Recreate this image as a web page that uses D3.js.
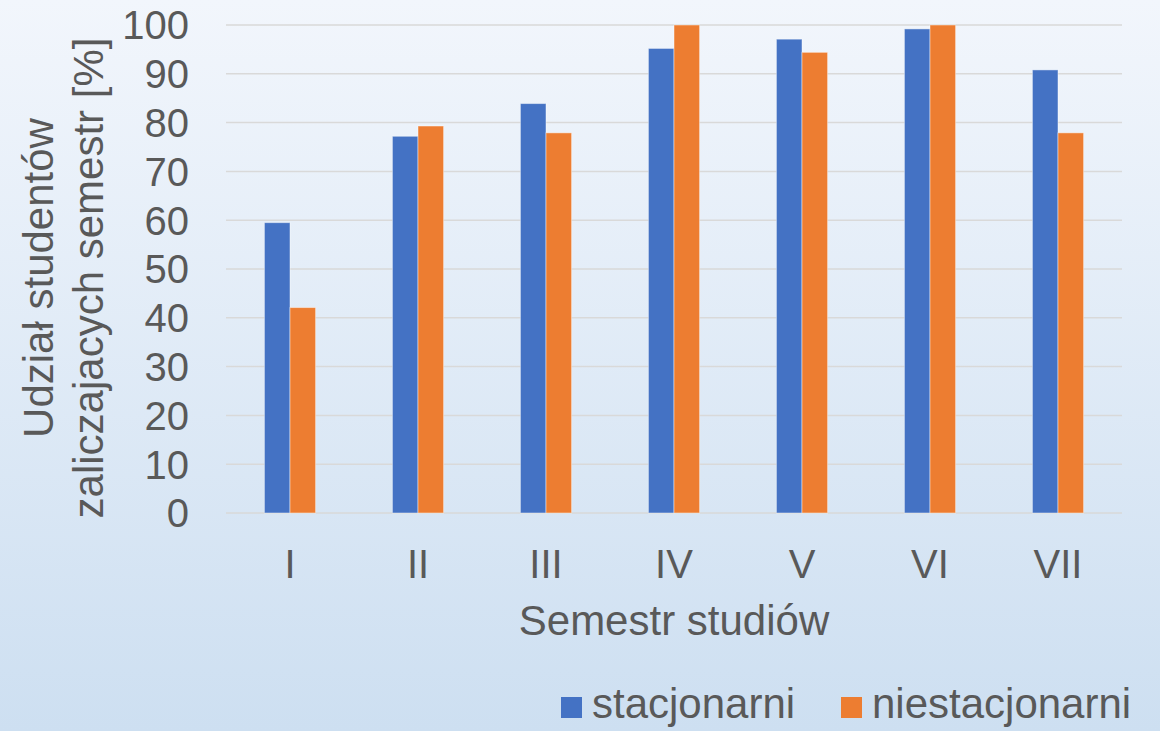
<!DOCTYPE html>
<html>
<head>
<meta charset="utf-8">
<script src="https://cdn.jsdelivr.net/npm/d3@7/dist/d3.min.js"></script>
<style>
  html, body { margin: 0; padding: 0; }
  svg { display: block; }
  text { font-family: "Liberation Sans", Arial, sans-serif; fill: #595959; }
</style>
</head>
<body>
<script>
// Share of students passing each semester, by mode of study
const semesters = ["I", "II", "III", "IV", "V", "VI", "VII"];
const stacjonarni = [59.5, 77.2, 83.9, 95.2, 97.1, 99.2, 90.8];
const niestacjonarni = [42.1, 79.3, 77.9, 100, 94.4, 100, 77.9];
const seriesNames = ["stacjonarni", "niestacjonarni"];
const seriesColors = ["#4472C4", "#ED7D31"];
const yTicks = [0, 10, 20, 30, 40, 50, 60, 70, 80, 90, 100];

const W = 1160, H = 731;
const plot = { left: 226, right: 1122, top: 25, bottom: 513 };

const svg = d3.select("body").append("svg")
  .attr("width", W).attr("height", H);

// soft vertical background gradient
const defs = svg.append("defs");
const grad = defs.append("linearGradient")
  .attr("id", "bg").attr("x1", 0).attr("y1", 0).attr("x2", 0).attr("y2", 1);
grad.append("stop").attr("offset", "0%").attr("stop-color", "#f2f6fc");
grad.append("stop").attr("offset", "100%").attr("stop-color", "#cddff1");
svg.append("rect").attr("width", W).attr("height", H).attr("fill", "url(#bg)");

const x0 = d3.scaleBand()
  .domain(semesters)
  .range([plot.left, plot.right])
  .paddingInner(0.6)
  .paddingOuter(0.3);

const x1 = d3.scaleBand()
  .domain(seriesNames)
  .range([0, x0.bandwidth()]);

const y = d3.scaleLinear().domain([0, 100]).range([plot.bottom, plot.top]);

// horizontal gridlines
svg.append("g")
  .selectAll("line")
  .data(yTicks)
  .join("line")
  .attr("x1", plot.left).attr("x2", plot.right)
  .attr("y1", d => y(d)).attr("y2", d => y(d))
  .attr("stroke", "#d9d9d9").attr("stroke-width", 1.5);

// y tick labels
svg.append("g")
  .selectAll("text")
  .data(yTicks)
  .join("text")
  .attr("x", 189)
  .attr("y", d => y(d))
  .attr("dy", "0.36em")
  .attr("text-anchor", "end")
  .attr("font-size", 40)
  .text(d => d);

// bars
const rows = semesters.map((s, i) => ({
  sem: s,
  values: [
    { key: seriesNames[0], v: stacjonarni[i], c: seriesColors[0] },
    { key: seriesNames[1], v: niestacjonarni[i], c: seriesColors[1] }
  ]
}));

svg.append("g")
  .selectAll("g")
  .data(rows)
  .join("g")
  .attr("transform", d => `translate(${x0(d.sem)},0)`)
  .selectAll("rect")
  .data(d => d.values)
  .join("rect")
  .attr("x", d => x1(d.key))
  .attr("width", x1.bandwidth())
  .attr("y", d => y(d.v))
  .attr("height", d => y(0) - y(d.v))
  .attr("fill", d => d.c)
  .attr("stroke", "rgba(255,255,255,0.45)")
  .attr("stroke-width", 1);

// x category labels
svg.append("g")
  .selectAll("text")
  .data(semesters)
  .join("text")
  .attr("x", d => x0(d) + x0.bandwidth() / 2)
  .attr("y", 578)
  .attr("text-anchor", "middle")
  .attr("font-size", 40)
  .text(d => d);

// x axis title
svg.append("text")
  .attr("x", (plot.left + plot.right) / 2)
  .attr("y", 635)
  .attr("text-anchor", "middle")
  .attr("font-size", 42)
  .text("Semestr studiów");

// y axis title, two lines
const yTitle = svg.append("text")
  .attr("transform", "translate(0,278) rotate(-90)")
  .attr("text-anchor", "middle")
  .attr("font-size", 42);
yTitle.append("tspan").attr("x", 0).attr("y", 53).text("Udział studentów");
yTitle.append("tspan").attr("x", 0).attr("y", 103).text("zaliczajacych semestr [%]");

// legend
const legendX = [561, 841];
const legend = svg.append("g")
  .selectAll("g")
  .data(seriesNames)
  .join("g")
  .attr("transform", (d, i) => `translate(${legendX[i]},0)`);
legend.append("rect")
  .attr("x", 0).attr("y", 697)
  .attr("width", 21).attr("height", 21)
  .attr("fill", (d, i) => seriesColors[i]);
legend.append("text")
  .attr("x", 31).attr("y", 718)
  .attr("font-size", 42)
  .text(d => d);
</script>
</body>
</html>
